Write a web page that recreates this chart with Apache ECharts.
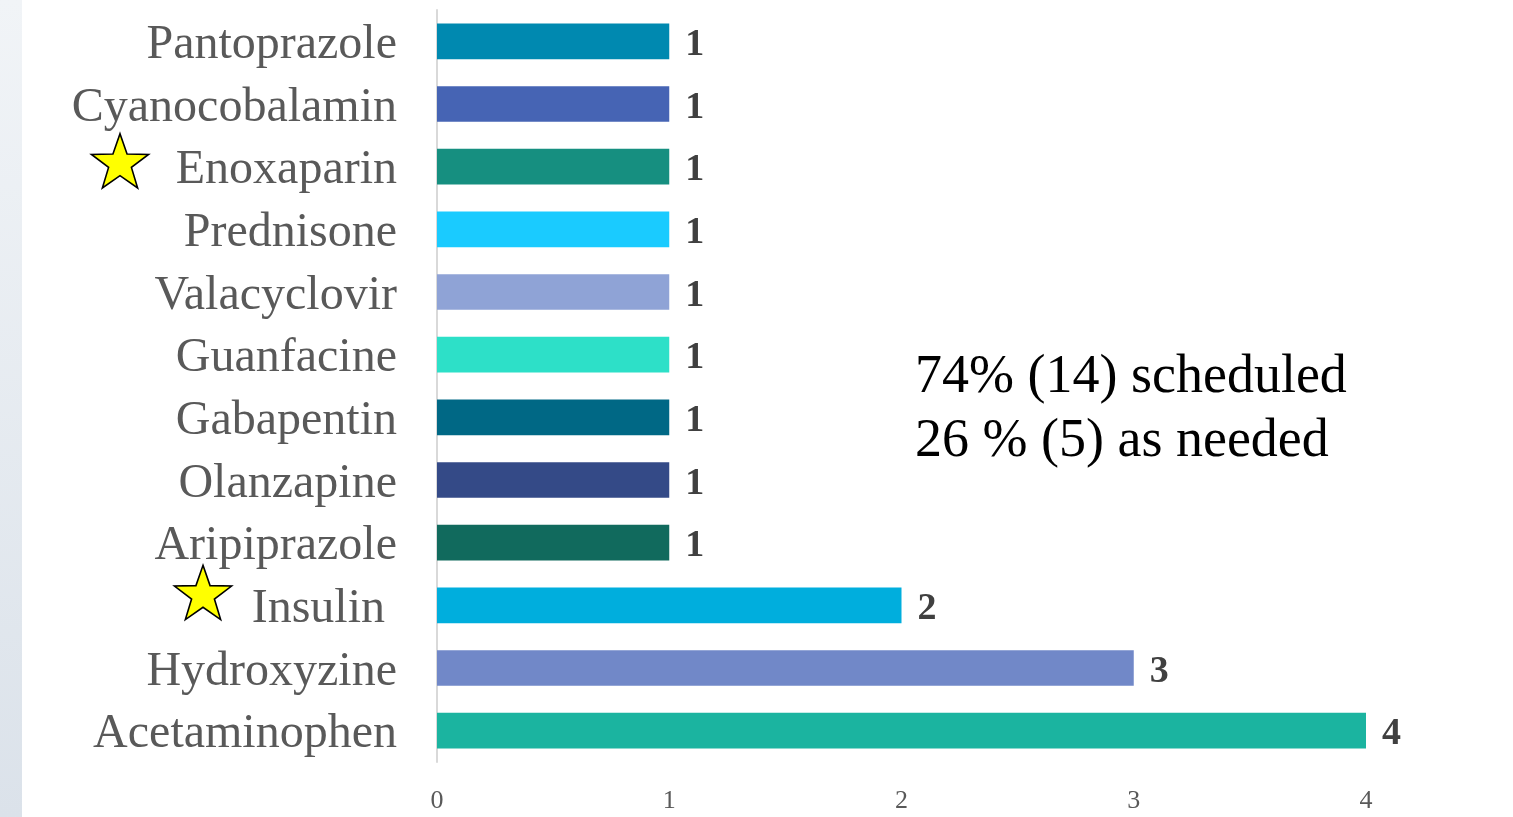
<!DOCTYPE html>
<html>
<head>
<meta charset="utf-8">
<script src="https://cdn.jsdelivr.net/npm/echarts@6/dist/echarts.min.js"></script>
<style>
  html, body { margin: 0; padding: 0; background: #ffffff; }
  #chart { width: 1513px; height: 817px; }
</style>
</head>
<body>
<div id="chart"></div>
<script>
// Medications, listed bottom to top as the category axis draws them
const medications = [
  'Acetaminophen', 'Hydroxyzine', 'Insulin ', 'Aripiprazole', 'Olanzapine',
  'Gabapentin', 'Guanfacine', 'Valacyclovir', 'Prednisone', 'Enoxaparin',
  'Cyanocobalamin', 'Pantoprazole'
];
const counts = [4, 3, 2, 1, 1, 1, 1, 1, 1, 1, 1, 1];
const barColors = [
  '#1bb4a0', '#7188c8', '#00aedd', '#116a5d', '#344a87', '#006885',
  '#2de0c8', '#8fa3d6', '#1acbff', '#168f80', '#4664b4', '#0089b0'
];
const tickLabels = ['0', '1', '2', '3', '4'];
const starred = ['Enoxaparin', 'Insulin '];
const noteLines = ['74% (14) scheduled', '26 % (5) as needed'];

const chart = echarts.init(document.getElementById('chart'), null, { renderer: 'canvas' });

const serif = '"Liberation Serif", "Times New Roman", serif';

const option = {
  backgroundColor: '#ffffff',
  animation: false,
  grid: { left: 437, right: 147, top: 10, bottom: 55, containLabel: false },
  xAxis: {
    type: 'value',
    min: 0,
    max: 4,
    interval: 1,
    axisLine: { show: false },
    axisTick: { show: false },
    splitLine: { show: false },
    axisLabel: {
      margin: 26,
      color: '#595959',
      fontFamily: serif,
      fontSize: 26,
      formatter: v => tickLabels[v]
    }
  },
  yAxis: {
    type: 'category',
    data: medications,
    axisLine: { show: true, lineStyle: { color: '#d9d9d9', width: 2 } },
    axisTick: { show: false },
    axisLabel: {
      margin: 40,
      formatter: name => '{n|' + name + '}',
      rich: {
        n: {
          color: '#595959',
          fontFamily: serif,
          fontSize: 48,
          padding: [8, 0, 0, 0]
        }
      }
    }
  },
  series: [{
    type: 'bar',
    data: counts.map((v, i) => ({ value: v, itemStyle: { color: barColors[i] } })),
    barCategoryGap: '43%',
    label: {
      show: true,
      position: 'right',
      distance: 16,
      color: '#404040',
      fontFamily: serif,
      fontWeight: 'bold',
      fontSize: 38,
      offset: [0, 4]
    }
  }]
};
chart.setOption(option);

// Five-point star outline around a centre
function starPoints(cx, cy, rOuter, rInner) {
  const pts = [];
  for (let k = 0; k < 10; k++) {
    const r = k % 2 === 0 ? rOuter : rInner;
    const a = -Math.PI / 2 + k * Math.PI / 5;
    pts.push([cx + r * Math.cos(a), cy + r * Math.sin(a)]);
  }
  return pts;
}

const starOffsets = { 'Enoxaparin': [120, -3], 'Insulin ': [203, -10] };
const graphics = [
  {
    type: 'rect',
    shape: { x: 0, y: 0, width: 22, height: 817 },
    style: {
      fill: new echarts.graphic.LinearGradient(0, 0, 0, 1, [
        { offset: 0, color: '#f1f4f7' },
        { offset: 1, color: '#dbe2ea' }
      ])
    },
    silent: true
  }
];
starred.forEach(name => {
  const y = chart.convertToPixel({ yAxisIndex: 0 }, name);
  const [x, dy] = starOffsets[name];
  graphics.push({
    type: 'polygon',
    shape: { points: starPoints(x, y + dy, 30, 12) },
    style: { fill: '#ffff00', stroke: '#000000', lineWidth: 1.6 },
    silent: true
  });
});
graphics.push({
  type: 'text',
  left: 915,
  top: 346,
  style: {
    text: noteLines.join('\n'),
    fill: '#000000',
    font: '54px ' + serif,
    lineHeight: 64
  },
  silent: true
});
chart.setOption({ graphic: graphics });
</script>
</body>
</html>
